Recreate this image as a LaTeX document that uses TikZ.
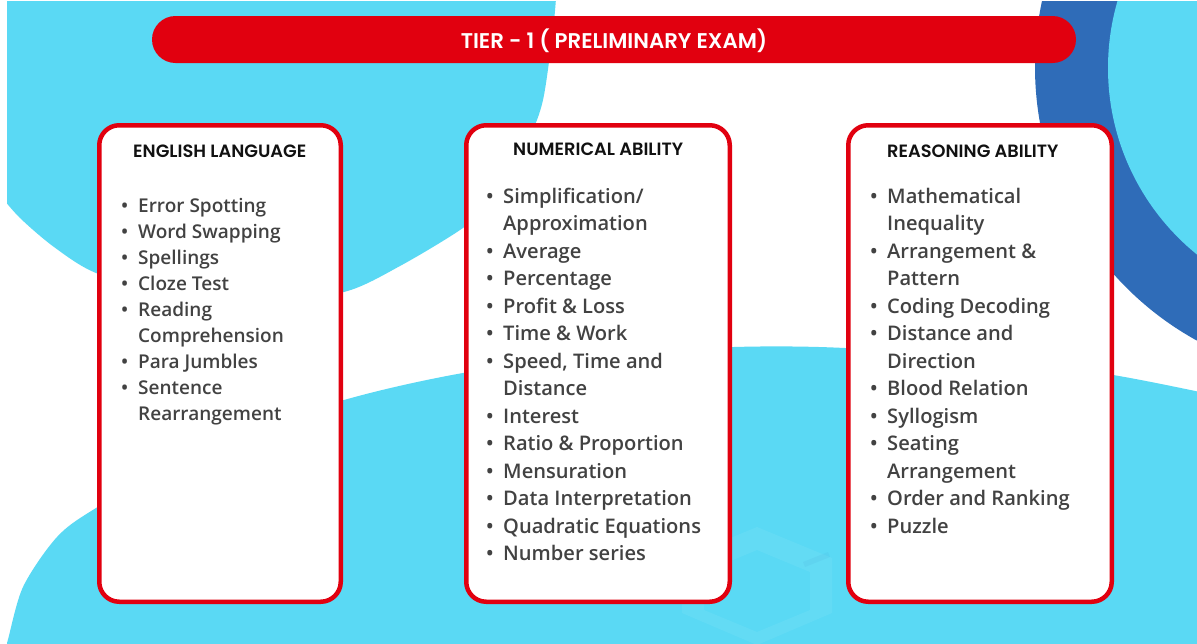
\documentclass[tikz,border=0pt]{standalone}
\usepackage{fontspec}
\setmainfont{Open Sans}
\IfFontExistsTF{Open Sans SemiBold}{\newfontfamily\itemfont{Open Sans SemiBold}}{%
  \IfFontExistsTF{Open Sans Semibold}{\newfontfamily\itemfont{Open Sans Semibold}}{%
    \newfontfamily\itemfont{Open Sans}[FakeBold=0.4]}}
\IfFontExistsTF{Poppins SemiBold}{\newfontfamily\headfont{Poppins SemiBold}}{%
  \newfontfamily\headfontX{Poppins}\newcommand\headfont{\headfontX\bfseries}}
\definecolor{lblue}{HTML}{5AD9F4}
\definecolor{dblue}{HTML}{2F6CB8}
\definecolor{bred}{HTML}{E1000F}
\definecolor{tgray}{HTML}{424242}
\definecolor{thead}{HTML}{111111}
\tikzset{
  card/.style={draw=bred, line width=4.5pt, fill=white, rounded corners=20pt,
    minimum width=#1, minimum height=476.5pt, inner sep=0pt},
  itemE/.style={anchor=base west, inner sep=0pt, text=tgray, font=\itemfont\fontsize{19}{22}\selectfont},
  itemN/.style={anchor=base west, inner sep=0pt, text=tgray, font=\itemfont\fontsize{20.1}{23}\selectfont},
  head/.style={anchor=base west, inner sep=0pt, text=thead, font=\headfont\fontsize{17.8}{20}\selectfont},
}
\begin{document}
\begin{tikzpicture}[x=1pt,y=-1pt]
\useasboundingbox (0,0) rectangle (1197,643);
\fill[white] (0,0) rectangle (1197,643);
\begin{scope}
\clip (7,1) rectangle (1197,643);
% top-left blob
\fill[lblue] plot[smooth] coordinates {(556,-2) (553,30) (543,100) (528,140) (494,200) (463,228) (400,266) (344,292) (260,302) (170,294) (96,273) (54,247) (20,218) (0,195)} -- (0,-2) -- cycle;
% bottom blob
\fill[lblue] plot[smooth] coordinates {(0,660) (7,643) (23,587) (57,537) (96,508) (200,448) (344,400) (463,373) (600,355) (734,347) (845,348) (1000,360) (1113,375) (1200,392)} -- (1200,660) -- cycle;
% top-right circles
\fill[dblue] (1347,67) circle[radius=312];
\fill[lblue] (1348,68) circle[radius=240];
\end{scope}
% faint watermark hexagon
\fill[white, opacity=0.06, even odd rule] (757,527) -- (832,558) -- (832,613) -- (757,645) -- (682,613) -- (682,558) -- cycle
  (757,550) -- (810,572) -- (810,610) -- (757,632) -- (704,610) -- (704,572) -- cycle;
\fill[dblue, opacity=0.06] (803,562) -- (828,552) -- (830,557) -- (805,567) -- cycle;
% banner
\node[fill=bred, rounded corners=23.5pt, minimum width=924pt, minimum height=47pt, inner sep=0pt] (banner) at (614,39.5) {};
\node[anchor=base, inner sep=0pt, text=white, font=\headfont\fontsize{21.3}{24}\selectfont] (bantext) at (614,48) {TIER - 1 ( PRELIMINARY EXAM)};
% cards
\node[card=241.5pt] (eng) at (220,363.5) {};
\node[card=263.5pt] (num) at (598,363.5) {};
\node[card=263.5pt] (rea) at (980,363.5) {};
\node[head] (engh) at (133,157.3) {ENGLISH LANGUAGE};
\node[head] (numh) at (513,155.3) {NUMERICAL ABILITY};
\node[head] (reah) at (887,157.7) {REASONING ABILITY};
% English items
\foreach \b/\t [count=\i] in {1/Error Spotting, 1/Word Swapping, 1/Spellings, 1/Cloze Test, 1/Reading, 0/Comprehension, 1/Para Jumbles, 1/Sentence, 0/Rearrangement}{
  \node[itemE] (e\i) at (138,{212+26*(\i-1)}) {\t};
  \ifnum\b=1 \node[itemE] (eb\i) at (121,{212+26*(\i-1)}) {\textbullet}; \fi
}
% Numerical items
\foreach \b/\t [count=\i] in {1/{Simplification/}, 0/Approximation, 1/Average, 1/Percentage, 1/Profit \& Loss, 1/Time \& Work, 1/{Speed, Time and}, 0/Distance, 1/Interest, 1/Ratio \& Proportion, 1/Mensuration, 1/Data Interpretation, 1/Quadratic Equations, 1/Number series}{
  \node[itemN] (n\i) at (503,{203+27.5*(\i-1)}) {\t};
  \ifnum\b=1 \node[itemN] (nb\i) at (486,{203+27.5*(\i-1)}) {\textbullet}; \fi
}
% Reasoning items
\foreach \b/\t [count=\i] in {1/Mathematical, 0/Inequality, 1/Arrangement \&, 0/Pattern, 1/Coding Decoding, 1/Distance and, 0/Direction, 1/Blood Relation, 1/Syllogism, 1/Seating, 0/Arrangement, 1/Order and Ranking, 1/Puzzle}{
  \node[itemN] (r\i) at (887,{203+27.5*(\i-1)}) {\t};
  \ifnum\b=1 \node[itemN] (rb\i) at (870,{203+27.5*(\i-1)}) {\textbullet}; \fi
}
\end{tikzpicture}
\end{document}
